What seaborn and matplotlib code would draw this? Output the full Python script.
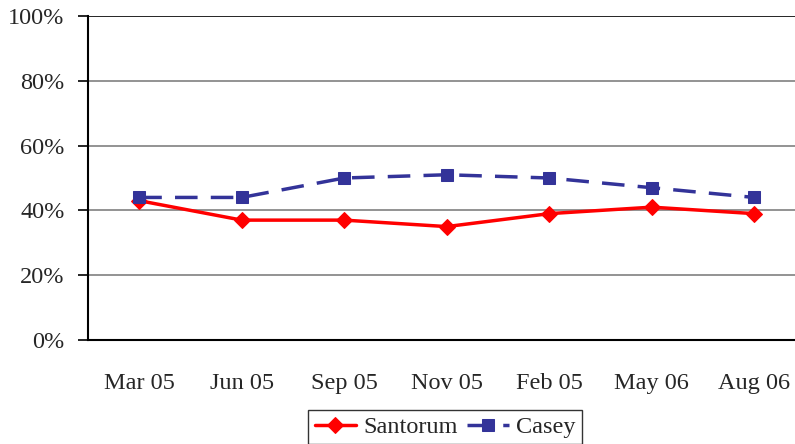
import matplotlib
matplotlib.use("Agg")
import matplotlib.pyplot as plt
import seaborn as sns
import pandas as pd

categories = ["Mar 05", "Jun 05", "Sep 05", "Nov 05", "Feb 05", "May 06", "Aug 06"]
santorum = [43, 37, 37, 35, 39, 41, 39]
casey = [44, 44, 50, 51, 50, 47, 44]
yticks = [0, 20, 40, 60, 80, 100]

sns.set_style("white")
plt.rcParams['font.family'] = ['Liberation Serif', 'DejaVu Serif']

df = pd.DataFrame({"x": list(range(len(categories))) * 2,
                   "y": santorum + casey,
                   "series": ["Santorum"] * len(categories) + ["Casey"] * len(categories)})

fig = plt.figure(figsize=(7.95, 4.44), dpi=100)
ax = fig.add_axes([88/795, 1-340/444, 717.5/795, 324/444])

for y in yticks[1:]:
    ax.axhline(y, color="#808080" if y < 100 else "#000000", lw=1.2, zorder=0)

sns.lineplot(data=df[df.series == "Santorum"], x="x", y="y", ax=ax, color="#FF0000",
             lw=2.5, marker="D", markersize=8, markeredgecolor="#FF0000", label="Santorum")
sns.lineplot(data=df[df.series == "Casey"], x="x", y="y", ax=ax, color="#333399",
             lw=2.5, marker="s", markersize=9, markeredgecolor="#333399",
             linestyle=(0, (6.5, 3.8)), label="Casey")

ax.set_xlim(-0.5, len(categories) - 0.5)
ax.set_ylim(0, 100)
ax.set_yticks(yticks)
ax.set_yticklabels([f"{v}%" for v in yticks], fontsize=17.5)
ax.set_xticks([i - 0.5 for i in range(len(categories) + 1)])
ax.set_xticklabels([])
ax.set_xticks(list(range(len(categories))), minor=True)
ax.set_xticklabels(categories, minor=True, fontsize=17.5)
ax.tick_params(axis="x", which="major", direction="out", length=7, width=1.2, color="black")
ax.tick_params(axis="x", which="minor", length=0, pad=24)
ax.tick_params(axis="y", direction="out", length=7, width=1.2, color="black", pad=10, left=True)
ax.set_xlabel("")
ax.set_ylabel("")
for s in ["top", "right"]:
    ax.spines[s].set_visible(False)
for s in ["left", "bottom"]:
    ax.spines[s].set_color("black")
    ax.spines[s].set_linewidth(1.5)

leg = ax.legend(loc="upper center", bbox_to_anchor=(445/795, 1-410/444),
                bbox_transform=fig.transFigure, ncol=2, fontsize=17.5, frameon=True,
                fancybox=False, edgecolor="black", handlelength=1.7, columnspacing=0.4,
                handletextpad=0.3, borderpad=0.25, borderaxespad=0)
leg.get_frame().set_linewidth(1.0)

fig.savefig("out.png", dpi=100)
